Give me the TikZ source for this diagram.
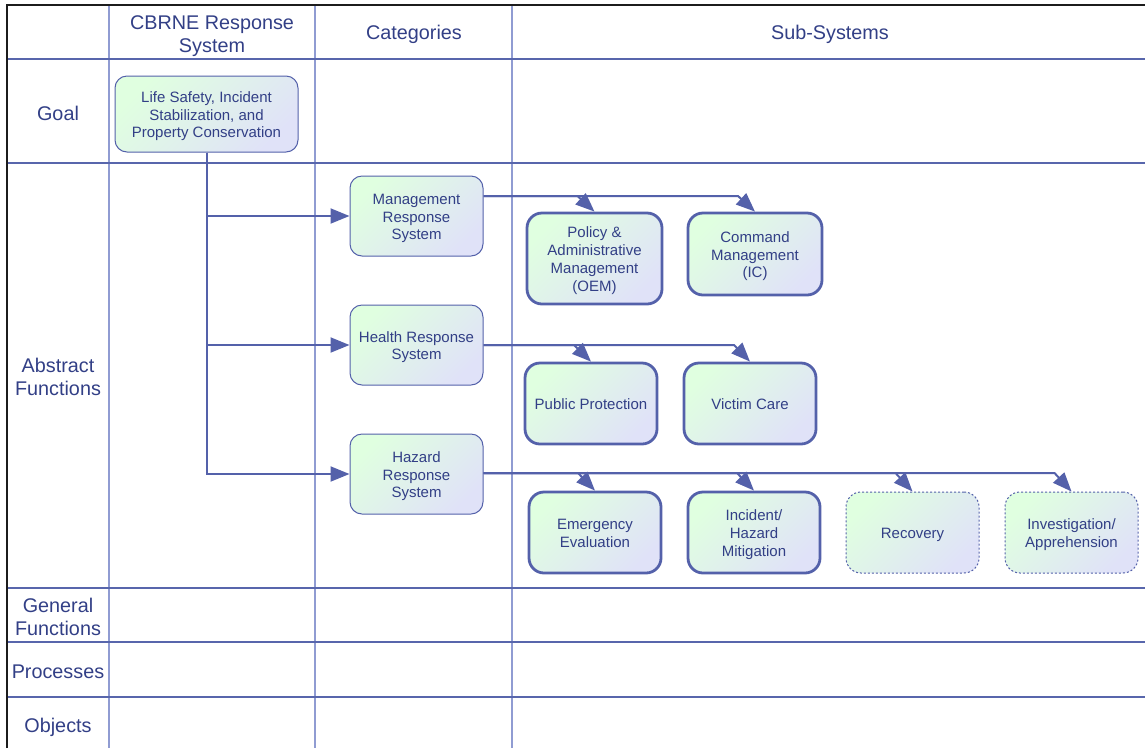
\documentclass[tikz,border=0pt]{standalone}
\usepackage{fontspec}
\setmainfont{Liberation Sans}
\usetikzlibrary{arrows.meta,calc}

\definecolor{txtblue}{HTML}{323F86}
\definecolor{edgeblue}{HTML}{5461AA}
\definecolor{gridh}{HTML}{5866AC}
\definecolor{gridv}{HTML}{909CD2}
\definecolor{framek}{HTML}{1C1C1C}
\definecolor{fillgreen}{HTML}{E0FFE0}
\definecolor{filllav}{HTML}{E0E2F8}

% box label: centred lines, set a little low inside the box
\newcommand{\boxlines}[1]{%
  \raisebox{-2.5pt}[\height][\depth]{\begin{tabular}{@{}c@{}}#1\end{tabular}}}

\tikzset{
  head/.style={font=\fontsize{19.8}{23}\selectfont, text=txtblue, align=center},
  box/.style={rounded corners=12pt, draw=edgeblue, line width=1pt,
    top color=fillgreen, bottom color=filllav, shading angle=45,
    text=txtblue, font=\fontsize{15}{17.7}\selectfont,
    inner sep=2pt},
  catbox/.style={box, minimum width=133pt, minimum height=80pt},
  subbox/.style={box, rounded corners=15pt, line width=2.8pt,
    minimum width=132pt, minimum height=79pt},
  planbox/.style={box, rounded corners=15pt, line width=1pt,
    dash pattern=on 2pt off 2pt, minimum width=133pt, minimum height=81pt},
  link/.style={draw=edgeblue, line width=2pt,
    -{Triangle[length=19pt,width=15pt]}},
}

\begin{document}
\begin{tikzpicture}[x=1pt,y=-1pt]
\useasboundingbox (0,0) rectangle (1145,748);

% grid of the abstraction hierarchy
\foreach \xx in {109,315,512}
  \draw[gridv, line width=1.3pt] (\xx,5) -- (\xx,748);
\foreach \yy in {59,163,588,642,697}
  \draw[gridh, line width=1.3pt] (7,\yy) -- (1145,\yy);
\draw[framek, line width=1.6pt] (7,748) -- (7,5) -- (1145,5);

% column headings
\node[head] (hsys) at (212,36) {CBRNE Response\\System};
\node[head] (hcat) at (414,34) {Categories};
\node[head] (hsub) at (830,34) {Sub-Systems};

% row headings
\node[head] (rgoal) at (58,113) {Goal};
\node[head] (rabs)  at (58,377) {Abstract\\Functions};
\node[head] (rgen)  at (58,617) {General\\Functions};
\node[head] (rproc) at (58,672) {Processes};
\node[head] (robj)  at (58,727) {Objects};

% goal
\node[box, minimum width=183pt, minimum height=76pt] (goal) at (206.5,114)
  {\boxlines{Life Safety, Incident\\Stabilization, and\\Property Conservation}};

% categories
\node[catbox] (mrs)  at (416.5,216) {\boxlines{Management\\Response\\System}};
\node[catbox] (hrs)  at (416.5,345) {\boxlines{Health Response\\System}};
\node[catbox] (hzrs) at (416.5,474) {\boxlines{Hazard\\Response\\System}};

% sub-systems
\node[subbox, minimum width=135pt, minimum height=91pt] (pam) at (594.5,258.5)
  {\boxlines{Policy \&\\Administrative\\Management\\(OEM)}};
\node[subbox, minimum width=134pt, minimum height=82pt] (cmd) at (755,254)
  {\boxlines{Command\\Management\\(IC)}};
\node[subbox, minimum height=81pt] (pp)  at (591,403.5) {\boxlines{Public Protection}};
\node[subbox, minimum height=81pt] (vc)  at (750,403.5) {\boxlines{Victim Care}};
\node[subbox, minimum height=81pt] (ee)  at (595,532.5) {\boxlines{Emergency\\Evaluation}};
\node[subbox, minimum height=81pt] (ihm) at (754,532.5) {\boxlines{Incident/\\Hazard\\Mitigation}};
\node[planbox] (rec) at (912.5,532.5) {\boxlines{Recovery}};
\node[planbox] (inv) at (1071.5,532.5) {\boxlines{Investigation/\\Apprehension}};

% goal to categories
\draw[link] (goal.south) |- (mrs.west);
\draw[link] (goal.south) |- (hrs.west);
\draw[link] (goal.south) |- (hzrs.west);

% categories to sub-systems
\coordinate (mout) at ([yshift=20pt]mrs.east);
\draw[link] (mout) -- ($(pam.north |- mout)+(-17,0)$) -- (pam.north);
\draw[link] (mout) -- ($(cmd.north |- mout)+(-17,0)$) -- (cmd.north);

\coordinate (hout) at (hrs.east);
\draw[link] (hout) -- ($(pp.north |- hout)+(-17,0)$) -- (pp.north);
\draw[link] (hout) -- ($(vc.north |- hout)+(-16,0)$) -- (vc.north);

\coordinate (zout) at ([yshift=1pt]hzrs.east);
\draw[link] (zout) -- ($(ee.north |- zout)+(-17,0)$) -- (ee.north);
\draw[link] (zout) -- ($(ihm.north |- zout)+(-17,0)$) -- (ihm.north);
\draw[link] (zout) -- ($(rec.north |- zout)+(-17,0)$) -- (rec.north);
\draw[link] (zout) -- ($(inv.north |- zout)+(-17,0)$) -- (inv.north);
\end{tikzpicture}
\end{document}
